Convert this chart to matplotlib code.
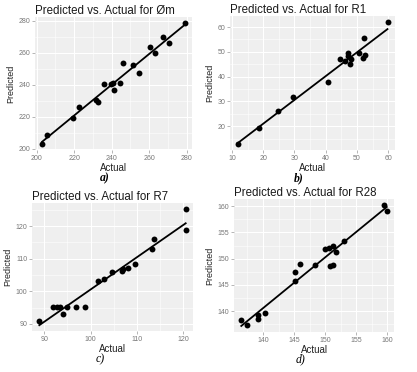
import numpy as np
import matplotlib
matplotlib.use("Agg")
import matplotlib.pyplot as plt
from matplotlib.ticker import MultipleLocator

plt.rcParams['font.family'] = ['Liberation Sans', 'DejaVu Sans']

# values
actual_a = [203.0, 205.5, 219.5, 222.5, 231.5, 232.5, 236.0, 239.5, 241.0, 241.2,
            244.5, 246.2, 251.6, 254.4, 260.3, 263.0, 267.6, 270.5, 279.0]
pred_a = [203.0, 208.3, 219.0, 226.0, 230.5, 229.5, 240.5, 240.5, 241.0, 237.0,
          241.0, 253.5, 252.0, 247.0, 263.5, 260.0, 270.0, 266.0, 278.5]

actual_b = [11.8, 18.8, 24.7, 29.7, 40.6, 44.6, 46.3, 47.0, 47.2, 47.9, 48.2,
            50.6, 52.0, 52.2, 52.5, 59.8]
pred_b = [12.9, 19.5, 26.1, 31.9, 38.0, 47.3, 46.2, 49.5, 48.3, 45.2, 47.2,
          49.6, 47.5, 55.7, 48.7, 62.0]

actual_c = [88.9, 91.9, 92.7, 93.3, 94.0, 94.8, 96.9, 98.8, 101.6, 102.9, 104.6,
            106.8, 107.1, 108.1, 109.6, 113.3, 113.8, 120.6, 120.6]
pred_c = [91.0, 95.2, 95.2, 95.2, 93.1, 95.2, 95.1, 95.1, 103.1, 103.7, 106.0,
          106.3, 106.8, 107.0, 108.5, 113.1, 116.1, 125.3, 118.8]

actual_d = [136.5, 137.4, 139.2, 139.2, 140.3, 145.2, 145.2, 146.0, 148.4, 150.0,
            150.6, 151.3, 150.8, 151.3, 151.8, 153.1, 159.5, 159.9]
pred_d = [138.3, 137.4, 139.2, 138.5, 139.7, 147.5, 145.8, 149.0, 148.8, 151.9,
          152.1, 152.4, 148.7, 148.8, 151.2, 153.3, 160.2, 159.0]

names = ['Øm', 'R1', 'R7', 'R28']
tags = ['a)', 'b)', 'c)', 'd)']
steps = [20, 10, 10, 5]

W, H = 417, 372
fig = plt.figure(figsize=(W / 100, H / 100), dpi=100)

# panel boxes in pixels: left, top, right, bottom
boxes = [(35, 17, 192, 150), (230, 16, 395, 150),
         (32, 203, 193, 331), (234, 199, 394, 332)]
tagpos = [(105, 178), (299, 178), (100, 359), (301, 359)]


def panel(box, x, y, name, step):
    l, t, r, b = box
    ax = fig.add_axes([l / W, 1 - b / H, (r - l) / W, (b - t) / H])
    x = np.array(x)
    y = np.array(y)
    k, c0 = np.polyfit(x, y, 1)
    xs = np.array([x.min(), x.max()])
    ys = k * xs + c0

    ax.set_facecolor('#EFEFEF')
    ax.scatter(x, y, s=18, color='black', zorder=3, linewidths=0)
    ax.plot(xs, ys, color='black', lw=1.3, zorder=2)

    dx = (x.max() - x.min()) * 0.05
    ax.set_xlim(x.min() - dx, x.max() + dx)
    ylo = min(y.min(), ys.min())
    yhi = max(y.max(), ys.max())
    dy = (yhi - ylo) * 0.05
    ax.set_ylim(ylo - dy, yhi + dy)

    ax.xaxis.set_major_locator(MultipleLocator(step))
    ax.yaxis.set_major_locator(MultipleLocator(step))
    ax.xaxis.set_minor_locator(MultipleLocator(step / 2))
    ax.yaxis.set_minor_locator(MultipleLocator(step / 2))
    ax.grid(which='major', color='white', lw=0.8)
    ax.grid(which='minor', color='white', lw=0.4)
    ax.set_axisbelow(True)
    for s in ax.spines.values():
        s.set_visible(False)
    ax.tick_params(which='major', length=2, width=0.5, color='#999999',
                   labelsize=5, labelcolor='#777777', pad=1.5)
    ax.tick_params(which='minor', length=0)

    ax.set_xlabel('Actual', fontsize=7, labelpad=0.5, color='#222222')
    ax.set_ylabel('Predicted', fontsize=6.5, labelpad=2, color='#222222')
    ax.set_title('Predicted vs. Actual for ' + name, loc='left', fontsize=8.3,
                 pad=2, color='#1a1a1a')
    return ax


data = [(actual_a, pred_a), (actual_b, pred_b), (actual_c, pred_c), (actual_d, pred_d)]
for i in range(4):
    panel(boxes[i], data[i][0], data[i][1], names[i], steps[i])
    fig.text(tagpos[i][0] / W, 1 - tagpos[i][1] / H, tags[i], ha='center', va='center',
             fontsize=8.5, style='italic', weight='bold' if i < 2 else 'normal',
             family='Liberation Serif')

fig.savefig('out.png', dpi=100, facecolor='white')
